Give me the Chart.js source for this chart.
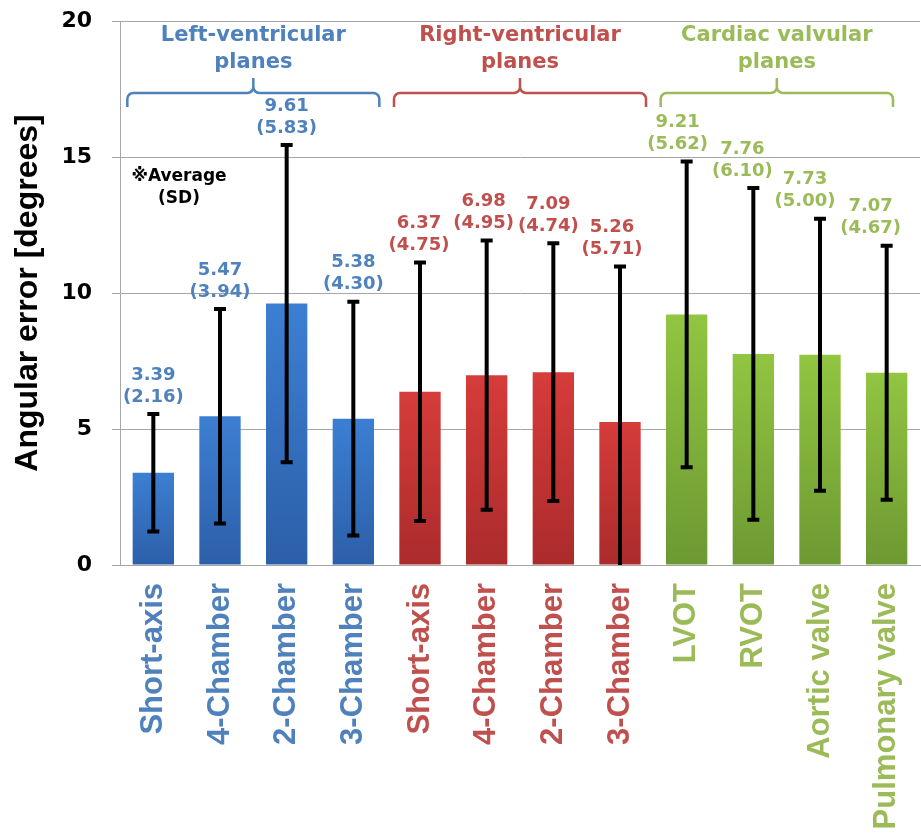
<!DOCTYPE html>
<html>
<head>
<meta charset="utf-8">
<title>Angular error by plane</title>
<script src="https://cdn.jsdelivr.net/npm/chart.js@4.4.0/dist/chart.umd.min.js"></script>
<style>
  body { margin: 0; background: #fff; }
  #wrap { width: 921px; height: 838px; }
</style>
</head>
<body>
<div id="wrap"><canvas id="chart" width="921" height="838"></canvas></div>
<script>
// chart values
const categories = ["Short-axis", "4-Chamber", "2-Chamber", "3-Chamber",
                    "Short-axis", "4-Chamber", "2-Chamber", "3-Chamber",
                    "LVOT", "RVOT", "Aortic valve", "Pulmonary valve"];
const means = [3.39, 5.47, 9.61, 5.38, 6.37, 6.98, 7.09, 5.26, 9.21, 7.76, 7.73, 7.07];
const sds = [2.16, 3.94, 5.83, 4.30, 4.75, 4.95, 4.74, 5.71, 5.62, 6.10, 5.00, 4.67];
const groupOf = [0, 0, 0, 0, 1, 1, 1, 1, 2, 2, 2, 2];
const groupNames = [["Left-ventricular", "planes"], ["Right-ventricular", "planes"], ["Cardiac valvular", "planes"]];
const yTicks = [0, 5, 10, 15, 20];

// colours per group
const textColors = ["#4f81bd", "#c0504d", "#9bbb59"];
const barTop = ["#3c7fd2", "#d63c3a", "#92c541"];
const barBottom = ["#2c5fa9", "#ab2b2b", "#6c9932"];

// small horizontal nudges of the value labels, as in the original figure
const labelNudge = [0, 0, 0, 0, -1, -3, -5, -8, -9, -11, -15, -16];

function barFill(c) {
  const chart = c.chart;
  const g = groupOf[c.dataIndex];
  if (!chart.chartArea || c.type !== "data") return barTop[g];
  const yTop = chart.scales.y.getPixelForValue(means[c.dataIndex]);
  const grad = chart.ctx.createLinearGradient(0, yTop, 0, chart.chartArea.bottom);
  grad.addColorStop(0, barTop[g]);
  grad.addColorStop(1, barBottom[g]);
  return grad;
}

function drawBrace(ctx, l, r, y, legDown, tickUp, rad) {
  const cx = (l + r) / 2;
  ctx.beginPath();
  ctx.moveTo(l, y + legDown);
  ctx.arcTo(l, y, l + rad, y, rad);
  ctx.lineTo(cx - rad, y);
  ctx.arcTo(cx, y, cx, y - rad, rad);
  ctx.lineTo(cx, y - tickUp);
  ctx.moveTo(cx + rad, y);
  ctx.arcTo(cx, y, cx, y - rad, rad);
  ctx.moveTo(cx + rad, y);
  ctx.lineTo(r - rad, y);
  ctx.arcTo(r, y, r, y + rad, rad);
  ctx.lineTo(r, y + legDown);
  ctx.stroke();
}

const extras = {
  id: "extras",
  afterDatasetsDraw(chart) {
    const ctx = chart.ctx;
    const x = chart.scales.x, y = chart.scales.y;
    const area = chart.chartArea;
    ctx.save();

    // error bars (mean +/- SD)
    ctx.strokeStyle = "#000";
    ctx.lineWidth = 4;
    means.forEach((m, i) => {
      const px = x.getPixelForValue(i);
      const lo = Math.max(0, m - sds[i]);
      const yHi = y.getPixelForValue(m + sds[i]);
      const yLo = y.getPixelForValue(lo);
      ctx.beginPath();
      ctx.moveTo(px, yLo);
      ctx.lineTo(px, yHi);
      ctx.moveTo(px - 6, yHi);
      ctx.lineTo(px + 6, yHi);
      if (lo > 0) {
        ctx.moveTo(px - 6, yLo);
        ctx.lineTo(px + 6, yLo);
      }
      ctx.stroke();
    });

    // value labels: mean (SD)
    ctx.font = "bold 18px 'DejaVu Sans'";
    ctx.textAlign = "center";
    ctx.textBaseline = "middle";
    means.forEach((m, i) => {
      const px = x.getPixelForValue(i) + labelNudge[i];
      const cap = y.getPixelForValue(m + sds[i]);
      ctx.fillStyle = textColors[groupOf[i]];
      ctx.fillText(m.toFixed(2), px, cap - 39);
      ctx.fillText("(" + sds[i].toFixed(2) + ")", px, cap - 17);
    });

    // group braces and titles
    groupNames.forEach((name, g) => {
      const idx = groupOf.map((v, i) => v === g ? i : -1).filter(i => i >= 0);
      const l = x.getPixelForValue(idx[0]) - 26;
      const r = Math.min(x.getPixelForValue(idx[idx.length - 1]) + 26, area.right - 27);
      ctx.strokeStyle = textColors[g];
      ctx.lineWidth = 2.5;
      drawBrace(ctx, l, r, area.top + 72, 14, 15, 6);
      ctx.fillStyle = textColors[g];
      ctx.font = "bold 21px 'DejaVu Sans'";
      ctx.fillText(name[0], (l + r) / 2, area.top + 15);
      ctx.fillText(name[1], (l + r) / 2, area.top + 42);
    });

    // note
    ctx.fillStyle = "#000";
    ctx.font = "bold 17px 'DejaVu Sans'";
    ctx.fillText("※Average", area.left + 59, y.getPixelForValue(14.29));
    ctx.fillText("(SD)", area.left + 59, y.getPixelForValue(13.48));
    ctx.restore();
  }
};

new Chart(document.getElementById("chart"), {
  type: "bar",
  data: {
    labels: categories,
    datasets: [{
      data: means,
      backgroundColor: barFill,
      borderWidth: 0,
      barPercentage: 0.62,
      categoryPercentage: 1
    }]
  },
  options: {
    responsive: false,
    animation: false,
    layout: { padding: { top: 21, right: 1, left: 0, bottom: 0 } },
    plugins: { legend: { display: false }, tooltip: { enabled: false } },
    scales: {
      x: {
        grid: { display: false },
        border: { color: "#a6a6a6", width: 1 },
        ticks: {
          minRotation: 90,
          maxRotation: 90,
          padding: 10,
          color: c => textColors[groupOf[c.index]],
          font: { family: "'Liberation Sans', Arial, sans-serif", size: 31, weight: "bold" }
        },
        afterFit: s => { s.height = 273; s.paddingLeft = 0; s.paddingRight = 0; }
      },
      y: {
        min: 0,
        max: 20,
        afterBuildTicks: s => { s.ticks = yTicks.map(v => ({ value: v })); },
        grid: { color: "#a6a6a6", lineWidth: 1, tickLength: 8 },
        border: { color: "#a6a6a6", width: 1 },
        ticks: {
          padding: 20,
          color: "#000",
          font: { family: "'DejaVu Sans'", size: 22, weight: "bold" }
        },
        title: {
          display: true,
          text: "Angular error [degrees]",
          color: "#000",
          padding: { top: 9, bottom: 0 },
          font: { family: "'Liberation Sans', Arial, sans-serif", size: 32, weight: "bold" }
        },
        afterFit: s => { s.width = 120; s.paddingTop = 0; s.paddingBottom = 0; }
      }
    }
  },
  plugins: [extras]
});
</script>
</body>
</html>
